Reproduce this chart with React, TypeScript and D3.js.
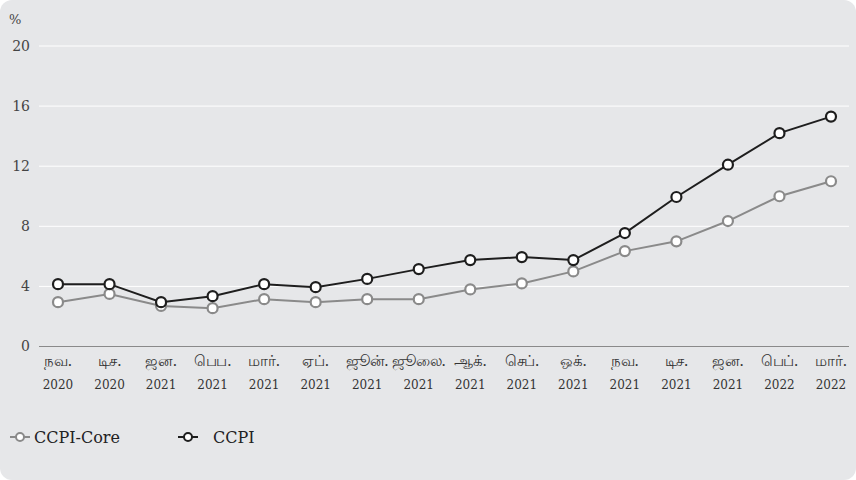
import React, { useEffect, useRef } from 'react';
import * as d3 from 'd3';

const months = ['நவ.', 'டிச.', 'ஜன.', 'பெப.', 'மார்.', 'ஏப்.', 'ஜூன்.', 'ஜூலை.', 'ஆக்.', 'செப்.', 'ஒக்.', 'நவ.', 'டிச.', 'ஜன.', 'பெப்.', 'மார்.'];
const years = ['2020', '2020', '2021', '2021', '2021', '2021', '2021', '2021', '2021', '2021', '2021', '2021', '2021', '2021', '2022', '2022'];
const ccpi = [4.15, 4.15, 2.95, 3.35, 4.15, 3.95, 4.5, 5.15, 5.75, 5.95, 5.75, 7.55, 9.95, 12.1, 14.2, 15.3];
const ccpiCore = [2.95, 3.5, 2.7, 2.55, 3.15, 2.95, 3.15, 3.15, 3.8, 4.2, 5.0, 6.35, 7.0, 8.35, 10.0, 11.0];
const yTicks = [0, 4, 8, 12, 16, 20];

const FONT = "'DejaVu Serif', 'Liberation Serif', serif";

export default function App() {
    const ref = useRef<SVGSVGElement>(null);

    useEffect(() => {
        if (!ref.current) return;
        const svg = d3.select(ref.current);
        svg.selectAll('*').remove();

        const width = 856;
        const height = 480;
        const margin = { top: 46, right: 7, bottom: 133, left: 39 };

        svg.append('rect')
            .attr('width', width).attr('height', height)
            .attr('rx', 12)
            .attr('fill', '#e6e7e9');

        const idx = d3.range(months.length);
        const x = d3.scalePoint<number>()
            .domain(idx)
            .range([58, 831]);

        const y = d3.scaleLinear()
            .domain([0, 20])
            .range([height - margin.bottom - 0.5, margin.top]);

        // grid
        svg.append('g')
            .selectAll('line')
            .data(yTicks.filter(t => t > 0))
            .enter()
            .append('line')
            .attr('x1', margin.left).attr('x2', width - margin.right)
            .attr('y1', d => y(d)).attr('y2', d => y(d))
            .attr('stroke', '#ffffff').attr('stroke-width', 1);

        svg.append('line')
            .attr('x1', margin.left).attr('x2', width - margin.right)
            .attr('y1', y(0)).attr('y2', y(0))
            .attr('stroke', '#8a8a8a').attr('stroke-width', 1);

        // y labels
        svg.append('g')
            .selectAll('text')
            .data(yTicks)
            .enter()
            .append('text')
            .attr('x', 30).attr('y', d => y(d))
            .attr('dy', '0.35em')
            .attr('text-anchor', 'end')
            .attr('font-family', FONT).attr('font-size', 14)
            .attr('fill', '#444')
            .text(d => d);

        svg.append('text')
            .attr('x', 9).attr('y', 24)
            .attr('font-family', FONT).attr('font-size', 13)
            .attr('fill', '#444')
            .text('%');

        // x labels
        const xl = svg.append('g')
            .selectAll('g')
            .data(idx)
            .enter()
            .append('g');
        xl.append('text')
            .attr('x', d => x(d)!).attr('y', 366)
            .attr('text-anchor', 'middle')
            .attr('font-family', FONT).attr('font-size', 15)
            .attr('letter-spacing', -0.4)
            .attr('fill', '#333')
            .text(d => months[d]);
        xl.append('text')
            .attr('x', d => x(d)!).attr('y', 389)
            .attr('text-anchor', 'middle')
            .attr('font-family', FONT).attr('font-size', 12)
            .attr('fill', '#333')
            .text(d => years[d]);

        const series = [
            { name: 'CCPI-Core', values: ccpiCore, color: '#8a8a8a' },
            { name: 'CCPI', values: ccpi, color: '#1e1e1e' },
        ];

        const line = d3.line<number>()
            .x((_, i) => x(i)!)
            .y(d => y(d));

        series.forEach(s => {
            svg.append('path')
                .datum(s.values)
                .attr('fill', 'none')
                .attr('stroke', s.color)
                .attr('stroke-width', 2)
                .attr('d', line);
            svg.append('g')
                .selectAll('circle')
                .data(s.values)
                .enter()
                .append('circle')
                .attr('cx', (_, i) => x(i)!)
                .attr('cy', d => y(d))
                .attr('r', 5)
                .attr('fill', '#ffffff')
                .attr('stroke', s.color)
                .attr('stroke-width', 2.2);
        });

        // legend
        const legend = [
            { name: 'CCPI-Core', color: '#8a8a8a', x: 10, tx: 34 },
            { name: 'CCPI', color: '#1e1e1e', x: 178, tx: 213 },
        ];
        legend.forEach(l => {
            const g = svg.append('g');
            g.append('line')
                .attr('x1', l.x).attr('x2', l.x + 20)
                .attr('y1', 437).attr('y2', 437)
                .attr('stroke', l.color).attr('stroke-width', 2);
            g.append('circle')
                .attr('cx', l.x + 10).attr('cy', 437).attr('r', 4)
                .attr('fill', '#fff').attr('stroke', l.color).attr('stroke-width', 2);
            g.append('text')
                .attr('x', l.tx).attr('y', 437)
                .attr('dy', '0.35em')
                .attr('font-family', FONT).attr('font-size', 16)
                .attr('fill', '#222')
                .text(l.name);
        });
    }, []);

    return <svg ref={ref} width={856} height={480} style={{ position: 'absolute', left: 0, top: 0 }} />;
}
